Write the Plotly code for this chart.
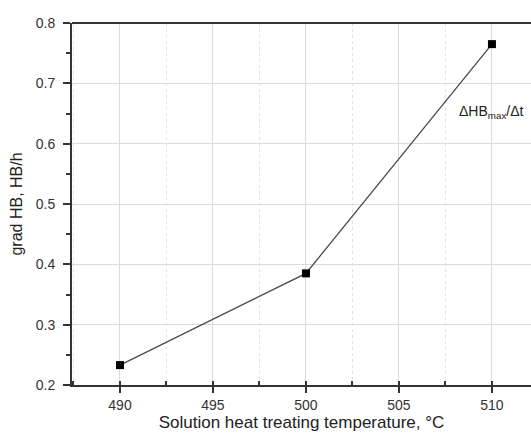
import plotly.graph_objects as go

# solution heat treating temperature (°C) vs hardness gradient
temperature = [490, 500, 510]
grad_hb = [0.233, 0.385, 0.765]

fig = go.Figure()
fig.add_trace(go.Scatter(
    x=temperature, y=grad_hb, mode='lines+markers',
    line=dict(color='#4a4a4a', width=1.3),
    marker=dict(symbol='square', size=8, color='black'),
    showlegend=False, cliponaxis=False,
))

fig.add_annotation(
    x=510.0, y=0.653, xref='x', yref='y',
    text='ΔHB<sub>max</sub>/Δt', showarrow=False, xanchor='center',
    font=dict(family='Liberation Sans, Arial', size=14, color='#222222'),
)

fig.update_xaxes(
    range=[487.42, 512.1],
    tickvals=[490, 495, 500, 505, 510],
    ticks='outside', ticklen=6, tickwidth=1.5, tickcolor='#333333',
    showline=True, linecolor='#333333', linewidth=2, mirror=False,
    showgrid=True, gridcolor='#dcdcdc', gridwidth=1,
    zeroline=False,
    minor=dict(dtick=2.5, tick0=487.5, ticks='inside', ticklen=4, tickcolor='#333333',
               showgrid=True, gridcolor='#e2e2e2', griddash='dot'),
    tickfont=dict(family='Liberation Sans, Arial', size=14, color='#333333'),
    title=dict(text='Solution heat treating temperature, °C',
               font=dict(family='Liberation Sans, Arial', size=17, color='#222222'),
               standoff=4),
)

fig.update_yaxes(
    range=[0.2, 0.8],
    tickvals=[0.2, 0.3, 0.4, 0.5, 0.6, 0.7, 0.8],
    ticktext=['0.2', '0.3', '0.4', '0.5', '0.6', '0.7', '0.8'],
    ticks='outside', ticklen=7, tickwidth=1.5, tickcolor='#333333',
    ticklabelstandoff=5,
    showline=True, linecolor='#333333', linewidth=2,
    showgrid=True, gridcolor='#dcdcdc', gridwidth=1,
    zeroline=False,
    minor=dict(dtick=0.05, tick0=0.2, ticks='outside', ticklen=4, tickcolor='#333333',
               showgrid=False),
    tickfont=dict(family='Liberation Sans, Arial', size=14, color='#333333'),
    title=dict(text='grad HB, HB/h',
               font=dict(family='Liberation Sans, Arial', size=16, color='#222222'),
               standoff=9),
)

# top border line
fig.add_shape(type='line', xref='paper', yref='paper', x0=0, x1=1, y0=1, y1=1,
              line=dict(color='#333333', width=2))

fig.update_layout(
    width=531, height=441,
    margin=dict(l=72, r=0, t=23, b=56),
    plot_bgcolor='white', paper_bgcolor='white',
)

# drop the default page margin so the figure fills the window
fig.write_html("out.html", config={'displayModeBar': False},
               post_script="document.body.style.margin='0';document.body.style.overflow='hidden';")
